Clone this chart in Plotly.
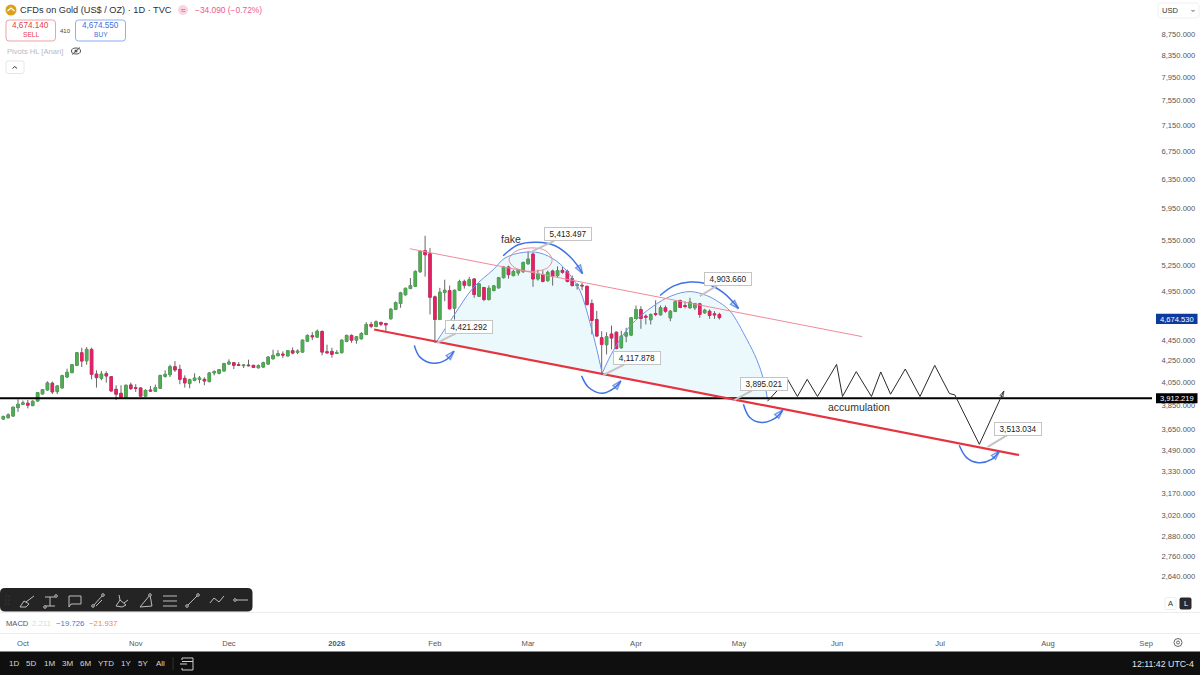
import math
import plotly.graph_objects as go

W = 1200
H = 675
FONT = "Liberation Sans"

##############################################################
# daily bars
bar_open = [3736,3747,3761,3832,3860,3869,3849,3888,3949,3984,
    4044,3970,4002,4100,4140,4207,4326,4250,4358,4127,
    4088,4131,4103,3990,3955,3923,4029,4005,4002,3930,
    3984,3973,3999,4106,4121,4195,4170,4088,4041,4070,
    4079,4079,4059,4137,4134,4155,4219,4232,4213,4204,
    4210,4207,4185,4191,4219,4269,4298,4313,4295,4346,
    4330,4332,4438,4492,4478,4534,4336,4339,4320,4326,
    4435,4495,4448,4462,4505,4605,4584,4625,4615,4663,
    4760,4823,4917,4985,5010,5175,5420,5384,4895,4656,
    4942,4963,4774,4967,5065,5018,5092,4901,4996,4866,
    4963,4993,5107,5229,5130,5160,5175,5267,5380,5092,
    5141,5073,5183,5130,5190,5178,5096,5018,5021,5010,
    4823,4656,4472,4403,4509,4527,4374,4488,4498,4666,
    4760,4690,4653,4718,4704,4778,4673,4739,4855,4802,
    4778,4778,4820,4725,4742,4715,4708]
bar_high = [3763,3783,3841,3903,3892,3897,3894,3967,3993,4061,
    4059,4026,4121,4176,4218,4333,4374,4380,4374,4161,
    4155,4152,4109,4026,4026,4032,4050,4035,4008,3990,
    4020,4032,4118,4161,4213,4247,4213,4115,4085,4134,
    4109,4097,4146,4161,4173,4232,4263,4238,4238,4219,
    4260,4213,4216,4241,4292,4355,4351,4339,4351,4377,
    4358,4455,4505,4527,4554,4547,4404,4374,4351,4455,
    4502,4505,4488,4527,4628,4632,4646,4635,4622,4774,
    4845,4949,4996,5103,5190,5424,5602,5452,4909,4993,
    5084,5018,4974,5084,5084,5115,5103,5048,5004,5018,
    5021,5115,5236,5244,5198,5206,5290,5413,5400,5198,
    5190,5186,5198,5236,5229,5198,5130,5048,5048,5018,
    4866,4745,4537,4527,4594,4534,4541,4571,4680,4802,
    4795,4708,4718,4858,4802,4802,4753,4855,4866,4845,
    4885,4830,4830,4767,4760,4742,4725]
bar_low = [3730,3742,3758,3796,3854,3825,3843,3883,3944,3979,
    3949,3949,3996,4091,4134,4200,4191,4213,4079,4005,
    4070,4050,3970,3897,3915,3918,3984,3967,3923,3923,
    3967,3967,3996,4094,4100,4146,4035,4005,3999,4061,
    4044,4026,4050,4115,4124,4149,4210,4173,4200,4182,
    4197,4182,4176,4185,4213,4260,4292,4275,4292,4311,
    4313,4326,4432,4448,4472,4301,4317,4279,4313,4320,
    4428,4423,4413,4452,4498,4567,4577,4587,4541,4656,
    4753,4778,4909,4982,5004,5160,5118,4708,4421,4649,
    4848,4760,4656,4960,4985,5010,4885,4895,4848,4855,
    4956,4985,5096,5096,5122,5130,5160,5255,5004,5073,
    5054,5062,5018,5115,5152,5054,5010,4974,4967,4802,
    4505,4482,4118,4310,4358,4358,4364,4428,4488,4663,
    4561,4605,4605,4690,4697,4725,4638,4732,4774,4771,
    4767,4753,4673,4715,4663,4663,4656]
bar_close = [3758,3771,3835,3860,3872,3852,3886,3961,3987,4047,
    3967,4020,4112,4143,4213,4326,4247,4358,4124,4094,
    4127,4109,3975,3947,3921,4026,3996,3999,3930,3981,
    3975,4005,4115,4124,4195,4164,4079,4047,4076,4091,
    4091,4064,4137,4149,4167,4223,4238,4207,4207,4210,
    4204,4188,4204,4232,4285,4301,4317,4304,4346,4323,
    4342,4448,4495,4482,4537,4332,4326,4311,4326,4448,
    4495,4448,4482,4514,4605,4587,4632,4608,4601,4763,
    4834,4938,4988,5018,5178,5412,5372,4890,4656,4945,
    4967,4767,4967,5062,5021,5084,4920,5037,4866,4988,
    5015,5107,5229,5141,5178,5198,5282,5321,5092,5149,
    5065,5167,5122,5186,5167,5065,5018,5029,5015,4812,
    4646,4488,4406,4482,4468,4367,4488,4521,4673,4760,
    4666,4680,4708,4708,4778,4742,4742,4842,4781,4792,
    4838,4823,4708,4753,4697,4704,4675]

# axes
price_ticks = [8750,8350,7950,7550,7150,6750,6350,5950,5550,5250,4950,4650,4450,4250,
    4050,3850,3650,3490,3330,3170,3020,2880,2760,2640,2520]
month_bars = [4,27,46,68,88,107,129,150,170,191,213,233]
month_names = ["Oct","Nov","Dec","<b>2026</b>","Feb","Mar","Apr","May","Jun","Jul","Aug","Sep"]

# drawings, in bar number / price
support_x = [75.6,207.1]
support_y = [4554,3451]
resist_x = [82.9,175.1]
resist_y = [5444,4483]
level_x = [-0.67,234.2]
level_y = [3912.219,3912.219]
last_price = 4674.530

arc1_x = [88.2,91.9,95.8,99.9,102.3,106,109.4,112.8,115.5,117.6,119.6,121,122.1]
arc1_y = [4421,4700,4993,5198,5334,5400,5393,5297,5141,4959,4625,4358,4134]
arc2_x = [122.1,124.4,127.8,132.5,136.3,140,143.4,146.1,148.2,151.6,153.6,155,155.8]
arc2_y = [4134,4349,4590,4795,4907,4952,4909,4831,4742,4455,4263,4079,3903]
floor_x = [155.8,149,88.2]
floor_y = [3912,3912,4421]

zigzag_x = [155.8,159.9,161.9,163.9,166,169.9,171.1,173.9,177,178.9,180.9,183.9,186.9,189.9,192.9,194,199,204]
zigzag_y = [3886,4079,3927,4079,3927,4216,3927,4149,3927,4146,3947,4173,3927,4207,3953,3941,3533,3975]

swoop_a_x = [83.8,84.95,87.7,90.4,91.9]
swoop_a_y = [4397,4284,4226,4263,4341]
swoop_b_x = [117.9,119.3,122,124.7,125.9]
swoop_b_y = [4110,4008,3955,4005,4064]
swoop_c_x = [150.9,152.2,154.6,157.3,158.9]
swoop_c_y = [3861,3749,3708,3741,3810]
swoop_d_x = [194.9,196.4,198.8,201.5,203.1]
swoop_d_y = [3526,3431,3393,3418,3481]
swoop_e_x = [101.9,105,108.8,112.5,115.5,117.2,118.1]
swoop_e_y = [5360,5492,5522,5480,5352,5236,5152]
swoop_f_x = [133.9,136.6,140,143.4,146.8,149.9]
swoop_f_y = [4909,5012,5057,5038,4940,4770]

ring_x = [103.1,104.3,107.6,110.6,111.9,111,107.6,104.3,103.1]
ring_y = [5313,5408,5454,5420,5313,5221,5178,5221,5313]

tag_bars = [107.8,88.4,122.3,142,149,200.7]
tag_prices = [5413.497,4421.292,4117.878,4903.660,3895.021,3513.034]
tag_dx = [36,32,34,28,30,30]
tag_dy = [-17,-16,-17,-17,-16,-18]

range_buttons = ["1D","5D","1M","3M","6M","YTD","1Y","5Y","All"]
range_button_x = [14,31,49,67,85,106,126,143,160]

##############################################################
def px(x):
    return x / W

def py(y):
    return 1 - y / H

shapes = []
notes = []

def rect(x0, y0, x1, y1, fill="white", line=None, lw=1):
    shapes.append(dict(type="rect", xref="paper", yref="paper", x0=px(x0), y0=py(y0), x1=px(x1), y1=py(y1),
                       fillcolor=fill, line=dict(color=line or "rgba(0,0,0,0)", width=lw if line else 0)))

def rrect(x0, y0, x1, y1, r, fill="white", line=None, lw=1):
    pts = [("M", x0 + r, y0), ("L", x1 - r, y0), ("Q", x1, y0, x1, y0 + r), ("L", x1, y1 - r), ("Q", x1, y1, x1 - r, y1),
           ("L", x0 + r, y1), ("Q", x0, y1, x0, y1 - r), ("L", x0, y0 + r), ("Q", x0, y0, x0 + r, y0)]
    d = ""
    for p in pts:
        d += p[0] + " "
        for i in range(1, len(p), 2):
            d += f"{px(p[i]):.5f},{py(p[i + 1]):.5f} "
    shapes.append(dict(type="path", xref="paper", yref="paper", path=d + "Z", fillcolor=fill,
                       line=dict(color=line or "rgba(0,0,0,0)", width=lw if line else 0)))

def stroke(pts, color="#B8B8B8", lw=1):
    d = "M " + " L ".join(f"{px(a):.5f},{py(b):.5f}" for a, b in pts)
    shapes.append(dict(type="path", xref="paper", yref="paper", path=d, line=dict(color=color, width=lw)))

def circle(x, y, r, fill="rgba(0,0,0,0)", line=None, lw=1):
    shapes.append(dict(type="circle", xref="paper", yref="paper", x0=px(x - r), y0=py(y + r), x1=px(x + r), y1=py(y - r),
                       fillcolor=fill, line=dict(color=line or "rgba(0,0,0,0)", width=lw if line else 0)))

def label(x, y, text, color="#333333", size=8, anchor="left"):
    notes.append(dict(x=px(x), y=py(y), xref="paper", yref="paper", text=text, showarrow=False, xanchor=anchor,
                      yanchor="middle", font=dict(family=FONT, size=size, color=color), borderpad=0))

def swoop(x, y, color="#3F72E4"):
    return go.Scatter(x=x, y=y, mode="lines+markers", hoverinfo="skip", showlegend=False,
                      line=dict(color=color, width=1.5, shape="spline"),
                      marker=dict(symbol="arrow-open", angleref="previous", color=color,
                                  size=[0] * (len(x) - 1) + [9], line=dict(color=color, width=1.5)))

##############################################################
fig = go.Figure()

# shaded cup and handle, a shape because candles draw under scatter fills
cup_x = arc1_x + arc2_x[1:] + floor_x
cup_y = arc1_y + arc2_y[1:] + floor_y
cup_path = "M " + " L ".join(f"{a},{b}" for a, b in zip(cup_x, cup_y)) + " Z"
shapes.append(dict(type="path", xref="x", yref="y", path=cup_path, fillcolor="#EBF9FC", layer="below", line=dict(width=0)))

# wicks first, then bodies over them so the wicks stay grey
up_green = "#4CAF50"
down_pink = "#E91E63"
wick = "#666666"
bar_x = list(range(len(bar_open)))
fig.add_trace(go.Candlestick(x=bar_x, open=bar_open, high=bar_high, low=bar_low, close=bar_close, whiskerwidth=0,
                             increasing=dict(line=dict(color=wick, width=1), fillcolor=up_green),
                             decreasing=dict(line=dict(color=wick, width=1), fillcolor=down_pink),
                             hoverinfo="skip", showlegend=False))
body_top = [max(a, b) for a, b in zip(bar_open, bar_close)]
body_bot = [min(a, b) for a, b in zip(bar_open, bar_close)]
fig.add_trace(go.Candlestick(x=bar_x, open=bar_open, high=body_top, low=body_bot, close=bar_close, whiskerwidth=0,
                             increasing=dict(line=dict(color=up_green, width=0.6), fillcolor=up_green),
                             decreasing=dict(line=dict(color=down_pink, width=0.6), fillcolor=down_pink),
                             hoverinfo="skip", showlegend=False))

for ax_, ay_ in [(arc1_x, arc1_y), (arc2_x, arc2_y)]:
    fig.add_trace(go.Scatter(x=ax_, y=ay_, mode="lines", line=dict(color="#6E93E6", width=1, shape="spline"),
                             hoverinfo="skip", showlegend=False))

fig.add_trace(go.Scatter(x=level_x, y=level_y, mode="lines", line=dict(color="#000000", width=2),
                         hoverinfo="skip", showlegend=False))
fig.add_trace(go.Scatter(x=resist_x, y=resist_y, mode="lines", line=dict(color="#F08A9C", width=1),
                         hoverinfo="skip", showlegend=False))
fig.add_trace(go.Scatter(x=support_x, y=support_y, mode="lines", line=dict(color="#E5333F", width=2.2),
                         hoverinfo="skip", showlegend=False))
fig.add_trace(go.Scatter(x=ring_x, y=ring_y, mode="lines", line=dict(color="#E88C9E", width=1, shape="spline"),
                         hoverinfo="skip", showlegend=False))
fig.add_trace(go.Scatter(x=zigzag_x, y=zigzag_y, mode="lines+markers", hoverinfo="skip", showlegend=False,
                         line=dict(color="#2A2A2A", width=1),
                         marker=dict(symbol="arrow-open", angleref="previous", color="#2A2A2A",
                                     size=[0] * (len(zigzag_x) - 1) + [6], line=dict(color="#2A2A2A", width=1))))
for sx, sy in [(swoop_a_x, swoop_a_y), (swoop_b_x, swoop_b_y), (swoop_c_x, swoop_c_y),
               (swoop_d_x, swoop_d_y), (swoop_e_x, swoop_e_y), (swoop_f_x, swoop_f_y)]:
    fig.add_trace(swoop(sx, sy))

# price tags on the drawing
for b, p, dx, dy in zip(tag_bars, tag_prices, tag_dx, tag_dy):
    notes.append(dict(x=b, y=math.log10(p), xref="x", yref="y", text=f"{p:,.3f}", showarrow=True, arrowhead=0,
                      arrowwidth=2, arrowcolor="#C4C4C4", ax=dx, ay=dy, standoff=0, bgcolor="white",
                      bordercolor="#C4C4C4", borderwidth=1, borderpad=1, width=44, height=10,
                      font=dict(family=FONT, size=8.2, color="#222222")))
notes.append(dict(x=103.5, y=math.log10(5565), xref="x", yref="y", text="fake", showarrow=False,
                  font=dict(family=FONT, size=10.5, color="#333333")))
notes.append(dict(x=174.5, y=math.log10(3834), xref="x", yref="y", text="accumulation", showarrow=False,
                  font=dict(family=FONT, size=10.5, color="#333333")))

##############################################################
# header
circle(11, 10, 5.5, fill="#D9A21B")
stroke([(7.5, 11), (11, 8), (14.5, 11)], color="white", lw=1.2)
label(19, 10.5, "CFDs on Gold (US$ / OZ) · 1D · TVC", color="#2A2E39", size=9.2)
circle(183, 10, 5, fill="#FAD4E0")
label(183, 10, "≈", color="#E0487F", size=8, anchor="center")
label(194, 10.5, "−34.090 (−0.72%)", color="#EF5A8A", size=8.4)

rrect(6, 20, 55.5, 41, 3, line="#F0A0A8")
label(30.7, 26, "4,674.140", color="#E5404C", size=8.2, anchor="center")
label(30.7, 35, "SELL", color="#E5404C", size=6.6, anchor="center")
label(65.5, 30.5, "410", color="#444444", size=6, anchor="center")
rrect(75.5, 20, 125.5, 41, 3, line="#8FAEF0")
label(100.5, 26, "4,674.550", color="#3D6FE0", size=8.2, anchor="center")
label(100.5, 35, "BUY", color="#3D6FE0", size=6.6, anchor="center")

label(6, 51.5, "Pivots HL [Anan]", color="#B7BAC2", size=7.6)
shapes.append(dict(type="circle", xref="paper", yref="paper", x0=px(71.5), y0=py(54), x1=px(80.5), y1=py(48),
                   fillcolor="rgba(0,0,0,0)", line=dict(color="#555555", width=1)))
circle(76, 51, 1.5, fill="#555555")
stroke([(72, 54.5), (80, 47.5)], color="#555555")
rrect(6, 61, 24, 73.5, 2, line="#E6E6E6")
stroke([(12.5, 68.5), (14.7, 66.5), (17, 68.5)], color="#333333")

rrect(1158, 3, 1199, 18, 3, line="#F0F0F0")
label(1161, 10.5, "USD", color="#333333", size=7.6)
stroke([(1191.5, 10), (1193, 11.5), (1194.5, 10)], color="#555555")

# axis price labels
rect(1156, 313.8, 1197.5, 324, fill="#0D3A9E")
label(1176.8, 319, f"{last_price:,.3f}", color="white", size=7.6, anchor="center")
rect(1156, 393.3, 1197.5, 403.3, fill="#000000")
label(1176.8, 398.4, f"{level_y[0]:,.3f}", color="white", size=7.6, anchor="center")

# A / L buttons, they sit over the lowest tick
rect(1152, 595, 1200, 612, fill="white")
rrect(1165, 597.5, 1176, 609.5, 1.5, line="#EEEEEE")
label(1170.5, 603.7, "A", color="#333333", size=7.6, anchor="center")
rrect(1179.5, 597.5, 1191.5, 609.5, 2, fill="#2A2A2E")
label(1185.5, 603.7, "L", color="white", size=7.6, anchor="center")

# drawing toolbar
rrect(0, 588, 252.5, 611.5, 5, fill="#242424")
for gx in (6, 9):
    for gy in (596, 600, 604):
        circle(gx, gy, 0.5, fill="#555555")
tool_lines = [
    [(20, 607), (24, 601), (29, 604), (26, 607), (20, 607)], [(26, 602), (34, 596)],
    [(45, 597), (55, 597)], [(50, 597), (50, 606)], [(45, 606), (55, 606)],
    [(69, 596), (81, 596), (81, 604), (71, 604), (69, 607), (69, 596)],
    [(93, 606), (103, 595)], [(96, 606), (102, 600)],
    [(116, 606), (120, 600), (126, 605), (122, 607), (116, 606)], [(120, 600), (119, 595)], [(124, 603), (128, 600)],
    [(140, 607), (150, 595), (152, 606), (140, 607)],
    [(163, 596), (177, 596)], [(163, 601), (177, 601)], [(163, 606), (177, 606)],
    [(187, 606), (198, 595)],
    [(210, 603), (214, 598), (219, 602), (224, 596)],
    [(235, 600), (248, 600)],
]
for t in tool_lines:
    stroke(t, color="#BDBDBD", lw=1)
for cx, cy in [(56, 596), (45, 607), (103, 595), (93, 606), (187, 606), (198, 595), (235, 600), (150, 595)]:
    circle(cx, cy, 1.3, fill="#242424", line="#BDBDBD")

# MACD row
stroke([(0, 612.5), (1200, 612.5)], color="#EDEDED")
stroke([(0, 633.5), (1200, 633.5)], color="#EDEDED")
label(5, 623, "MACD", color="#555555", size=7.6)
label(31, 623, "2.211", color="#BFE5E0", size=7.8)
label(55, 623, "−19.726", color="#4C74D9", size=7.8)
label(88, 623, "−21.937", color="#EE8A45", size=7.8)

# bottom bar
rect(0, 651.5, 1200, 675, fill="#0F0F0F")
for name, bx in zip(range_buttons, range_button_x):
    label(bx, 663.5, name, color="#D6D6D6", size=8, anchor="center")
stroke([(173, 657), (173, 670)], color="#333333")
stroke([(182, 660), (182, 658), (193, 658), (193, 670), (182, 670), (182, 668)], color="#D0D0D0")
stroke([(180, 664), (187, 664)], color="#D0D0D0")
stroke([(182, 661.5), (193, 661.5)], color="#D0D0D0")
label(1195, 663.5, "12:11:42 UTC-4", color="#E4E4E4", size=8.8, anchor="right")
circle(1178, 642.5, 4, line="#666666")
circle(1178, 642.5, 1.5, line="#666666")

##############################################################
fig.update_layout(
    width=W, height=H, margin=dict(l=0, r=0, t=0, b=0),
    paper_bgcolor="white", plot_bgcolor="white", showlegend=False, boxgap=0.25,
    font=dict(family=FONT),
    xaxis=dict(domain=[0, 1152 / W], range=[-0.67, 234.2], anchor="free", position=1 - 633.5 / H,
               rangeslider=dict(visible=False), tickvals=month_bars, ticktext=month_names, showgrid=False,
               zeroline=False, showline=False, ticks="outside", ticklen=2, tickcolor="rgba(0,0,0,0)",
               tickfont=dict(family=FONT, size=7.6, color="#555555")),
    yaxis=dict(domain=[1 - 612 / H, 1], type="log", range=[3.3872, 3.9747], side="right", anchor="x",
               tickvals=price_ticks, tickformat=",.3f", showgrid=False, zeroline=False, showline=False,
               ticks="outside", ticklen=7, tickcolor="rgba(0,0,0,0)",
               tickfont=dict(family=FONT, size=7.6, color="#555555")),
    shapes=shapes, annotations=notes,
)

# the page has a default body margin that would push the chart off the window
fig.write_html("out.html", config={"displayModeBar": False},
               post_script="document.body.style.margin='0';document.body.style.overflow='hidden';")
